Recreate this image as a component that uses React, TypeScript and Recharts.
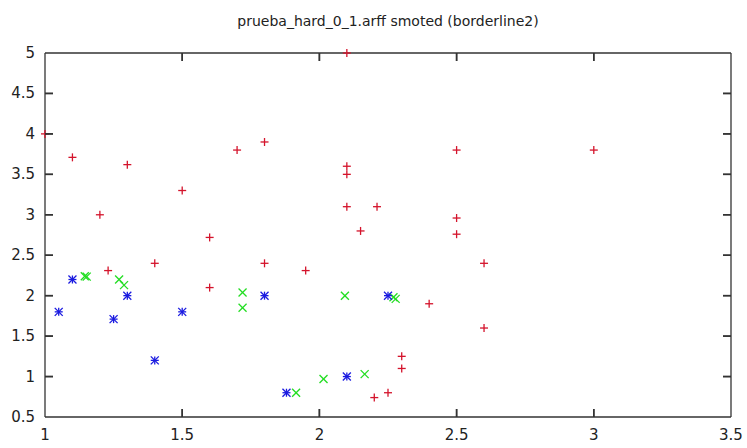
import React from "react";
import { ScatterChart, Scatter, XAxis, YAxis } from "recharts";

const title = "prueba_hard_0_1.arff smoted (borderline2)";
const xTicks = [1, 1.5, 2, 2.5, 3, 3.5];
const yTicks = [0.5, 1, 1.5, 2, 2.5, 3, 3.5, 4, 4.5, 5];
const xDomain = [1, 3.5];
const yDomain = [0.5, 5];

// red "+"
const redPoints = [
  { x: 2.1, y: 5.0 }, { x: 1.0, y: 4.0 }, { x: 1.1, y: 3.71 }, { x: 1.3, y: 3.62 },
  { x: 1.2, y: 3.0 }, { x: 1.5, y: 3.3 }, { x: 1.6, y: 2.72 }, { x: 1.7, y: 3.8 },
  { x: 1.8, y: 3.9 }, { x: 2.1, y: 3.6 }, { x: 2.1, y: 3.5 }, { x: 2.1, y: 3.1 },
  { x: 2.21, y: 3.1 }, { x: 2.15, y: 2.8 }, { x: 2.5, y: 3.8 }, { x: 2.5, y: 2.96 },
  { x: 2.5, y: 2.76 }, { x: 3.0, y: 3.8 }, { x: 1.23, y: 2.31 }, { x: 1.4, y: 2.4 },
  { x: 1.6, y: 2.1 }, { x: 1.8, y: 2.4 }, { x: 1.95, y: 2.31 }, { x: 2.4, y: 1.9 },
  { x: 2.6, y: 2.4 }, { x: 2.6, y: 1.6 }, { x: 2.3, y: 1.25 }, { x: 2.3, y: 1.1 },
  { x: 2.2, y: 0.74 }, { x: 2.25, y: 0.8 },
];

// blue "*"
const bluePoints = [
  { x: 1.05, y: 1.8 }, { x: 1.1, y: 2.2 }, { x: 1.25, y: 1.71 }, { x: 1.3, y: 2.0 },
  { x: 1.4, y: 1.2 }, { x: 1.5, y: 1.8 }, { x: 1.8, y: 2.0 }, { x: 2.25, y: 2.0 },
  { x: 2.1, y: 1.0 }, { x: 1.88, y: 0.8 },
];

// green "x"
const greenPoints = [
  { x: 1.145, y: 2.24 }, { x: 1.152, y: 2.235 }, { x: 1.27, y: 2.2 }, { x: 1.288, y: 2.13 },
  { x: 1.72, y: 2.04 }, { x: 1.72, y: 1.85 }, { x: 1.915, y: 0.8 }, { x: 2.015, y: 0.97 },
  { x: 2.093, y: 2.0 }, { x: 2.165, y: 1.03 }, { x: 2.27, y: 1.98 }, { x: 2.278, y: 1.96 },
];

const RED = "#d4142c";
const GREEN = "#22dd22";
const BLUE = "#1a1ae0";
const AXIS = "#333333";
const FONT = "'DejaVu Sans', sans-serif";
const T = 8;
const M = 20;

// tick-mark positions on the four borders, built from the tick arrays
const innerX = xTicks.filter((v) => v > xDomain[0] && v < xDomain[1]);
const innerY = yTicks.filter((v) => v > yDomain[0] && v < yDomain[1]);
const tickMarks = [
  ...innerX.map((v) => ({ x: v, y: yDomain[0], side: "b" })),
  ...innerX.map((v) => ({ x: v, y: yDomain[1], side: "t" })),
  ...innerY.map((v) => ({ x: xDomain[0], y: v, side: "l" })),
  ...innerY.map((v) => ({ x: xDomain[1], y: v, side: "r" })),
];

const TickMark = (props: any) => {
  const { cx, cy } = props;
  const side = props.side ?? props.payload?.side;
  let dx = 0;
  let dy = 0;
  if (side === "b") dy = -T;
  else if (side === "t") dy = T;
  else if (side === "l") dx = T;
  else dx = -T;
  return (
    <g stroke={AXIS} strokeWidth={1.5}>
      <line x1={cx} y1={cy} x2={cx + dx} y2={cy + dy} />
      <line x1={cx} y1={cy} x2={cx + dx} y2={cy + dy} />
    </g>
  );
};

const Plus = (props: any) => {
  const { cx, cy } = props;
  const s = 4;
  return (
    <g stroke={RED} strokeWidth={1.3}>
      <line x1={cx - s} y1={cy} x2={cx + s} y2={cy} />
      <line x1={cx} y1={cy - s} x2={cx} y2={cy + s} />
    </g>
  );
};

const Cross = (props: any) => {
  const { cx, cy } = props;
  const s = 4;
  return (
    <g stroke={GREEN} strokeWidth={1.3}>
      <line x1={cx - s} y1={cy - s} x2={cx + s} y2={cy + s} />
      <line x1={cx - s} y1={cy + s} x2={cx + s} y2={cy - s} />
    </g>
  );
};

const Star = (props: any) => {
  const { cx, cy } = props;
  const s = 4;
  return (
    <g stroke={BLUE} strokeWidth={1.3}>
      <line x1={cx - s} y1={cy} x2={cx + s} y2={cy} />
      <line x1={cx} y1={cy - s} x2={cx} y2={cy + s} />
      <line x1={cx - s} y1={cy - s} x2={cx + s} y2={cy + s} />
      <line x1={cx - s} y1={cy + s} x2={cx + s} y2={cy - s} />
    </g>
  );
};

const bottomTick = (props: any) => {
  const { x, y, payload } = props;
  const ay = Number(y) - M;
  return (
    <text x={Number(x)} y={ay + 23} textAnchor="middle" fontSize={15} fontFamily={FONT} fill="#222">
      {payload.value}
    </text>
  );
};

const leftTick = (props: any) => {
  const { x, y, payload } = props;
  const ax = Number(x) + M;
  return (
    <text x={ax - 10} y={Number(y) + 5} textAnchor="end" fontSize={15} fontFamily={FONT} fill="#222">
      {payload.value}
    </text>
  );
};

export default function App() {
  const line = { stroke: AXIS, strokeWidth: 1.3 };
  return (
    <div style={{ position: "absolute", left: 0, top: 0, width: 747, height: 448, background: "#fff" }}>
      <div
        style={{
          position: "absolute",
          left: 45,
          width: 686,
          top: 13,
          textAlign: "center",
          fontFamily: FONT,
          fontSize: 14,
          color: "#222",
          whiteSpace: "nowrap",
        }}
      >
        {title}
      </div>
      <ScatterChart width={747} height={448} margin={{ top: 52, right: 15, bottom: 0, left: 0 }}>
        <XAxis
          xAxisId="b"
          type="number"
          dataKey="x"
          domain={xDomain}
          ticks={xTicks}
          height={31}
          tickSize={0}
          tickMargin={M}
          stroke={AXIS}
          axisLine={line}
          tickLine={false}
          tick={bottomTick}
          interval={0}
        />
        <XAxis
          xAxisId="t"
          orientation="top"
          type="number"
          dataKey="x"
          domain={xDomain}
          ticks={xTicks}
          height={1}
          tickSize={0}
          stroke={AXIS}
          axisLine={line}
          tickLine={false}
          tick={false}
        />
        <YAxis
          yAxisId="l"
          type="number"
          dataKey="y"
          domain={yDomain}
          ticks={yTicks}
          width={45}
          tickSize={0}
          tickMargin={M}
          stroke={AXIS}
          axisLine={line}
          tickLine={false}
          tick={leftTick}
          interval={0}
        />
        <YAxis
          yAxisId="r"
          orientation="right"
          type="number"
          dataKey="y"
          domain={yDomain}
          ticks={yTicks}
          width={1}
          tickSize={0}
          stroke={AXIS}
          axisLine={line}
          tickLine={false}
          tick={false}
        />
        <Scatter data={redPoints} xAxisId="b" yAxisId="l" shape={Plus} isAnimationActive={false} />
        <Scatter data={greenPoints} xAxisId="b" yAxisId="l" shape={Cross} isAnimationActive={false} />
        <Scatter data={bluePoints} xAxisId="b" yAxisId="l" shape={Star} isAnimationActive={false} />
        <Scatter data={tickMarks} xAxisId="b" yAxisId="l" shape={TickMark} isAnimationActive={false} />
      </ScatterChart>
    </div>
  );
}
